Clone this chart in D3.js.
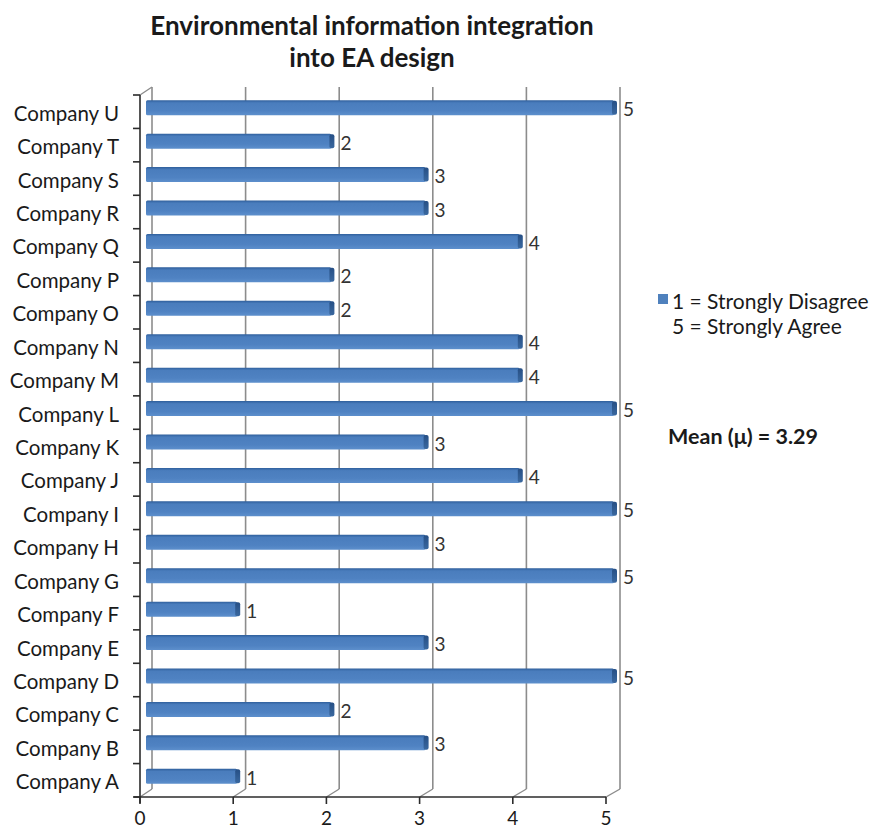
<!DOCTYPE html>
<html>
<head>
<meta charset="utf-8">
<script src="https://cdn.jsdelivr.net/npm/d3@7"></script>
<style>
  body { margin: 0; background: #fff; }
  text { font-family: Lato, "Open Sans", sans-serif; }
</style>
</head>
<body>
<svg id="chart" width="874" height="831"></svg>
<script>
// Survey scores per company (1 = Strongly Disagree ... 5 = Strongly Agree)
const companies = ["Company A", "Company B", "Company C", "Company D", "Company E", "Company F",
  "Company G", "Company H", "Company I", "Company J", "Company K", "Company L", "Company M",
  "Company N", "Company O", "Company P", "Company Q", "Company R", "Company S", "Company T", "Company U"];
const scores = [1, 3, 2, 5, 3, 1, 5, 3, 5, 4, 3, 5, 4, 4, 2, 2, 4, 3, 3, 2, 5];
const xTicks = [0, 1, 2, 3, 4, 5];
const titleLines = ["Environmental information integration", "into EA design"];
const legendLines = ["1 = Strongly Disagree", "5 = Strongly Agree"];
const meanLabel = "Mean (\u03bc) = " + d3.format(".2f")(d3.mean(scores));

const svg = d3.select("#chart");

// 3D depth offset between the front axis plane and the back wall
const depth = { dx: 12, dy: -8 };

const xFront = d3.scaleLinear().domain([0, 5]).range([140, 606]);
const xBack = d3.scaleLinear().domain([0, 5]).range([152, 620]);
const xBar = d3.scaleLinear().domain([0, 5]).range([146, 617]);
const y = d3.scaleBand().domain(companies.slice().reverse()).range([95, 797]);
const yBottom = y.range()[1];
const yTop = y.range()[0];

// gradient for the bar body
const defs = svg.append("defs");
const grad = defs.append("linearGradient").attr("id", "barGrad")
  .attr("x1", 0).attr("y1", 0).attr("x2", 0).attr("y2", 1);
grad.append("stop").attr("offset", "0%").attr("stop-color", "#2f5f9c");
grad.append("stop").attr("offset", "18%").attr("stop-color", "#4a7dbd");
grad.append("stop").attr("offset", "70%").attr("stop-color", "#4f82c2");
grad.append("stop").attr("offset", "100%").attr("stop-color", "#5d8fcc");

const capGrad = defs.append("linearGradient").attr("id", "capGrad")
  .attr("x1", 0).attr("y1", 0).attr("x2", 0).attr("y2", 1);
capGrad.append("stop").attr("offset", "0%").attr("stop-color", "#264f85");
capGrad.append("stop").attr("offset", "100%").attr("stop-color", "#3a689f");

// back wall gridlines
const grid = svg.append("g");
grid.selectAll("line.v").data(xTicks).join("line")
  .attr("x1", d => xBack(d)).attr("x2", d => xBack(d))
  .attr("y1", yTop + depth.dy).attr("y2", yBottom + depth.dy)
  .attr("stroke", "#8c8c8c").attr("stroke-width", 1.6);
// floor diagonals from the front ticks to the back wall
grid.selectAll("line.f").data(xTicks).join("line")
  .attr("x1", d => xFront(d)).attr("y1", yBottom)
  .attr("x2", d => xBack(d)).attr("y2", yBottom + depth.dy)
  .attr("stroke", "#8c8c8c").attr("stroke-width", 1.4);
// top-left corner diagonal
grid.append("line")
  .attr("x1", xFront(0)).attr("y1", yTop)
  .attr("x2", xBack(0)).attr("y2", yTop + depth.dy)
  .attr("stroke", "#8c8c8c").attr("stroke-width", 1.4);

// bars
const barH = 15;
const bars = svg.append("g").selectAll("g").data(companies.map((c, i) => ({ c, v: scores[i] }))).join("g")
  .attr("transform", d => `translate(0,${y(d.c) + y.bandwidth() / 2 + depth.dy / 2 - barH / 2})`);
bars.append("rect")
  .attr("x", xBar(0)).attr("y", 0)
  .attr("width", d => xBar(d.v) - xBar(0) - 3).attr("height", barH)
  .attr("rx", 1.5)
  .attr("fill", "url(#barGrad)");
bars.append("rect")
  .attr("x", d => xBar(d.v) - 5).attr("y", 0.5)
  .attr("width", 5).attr("height", barH - 1)
  .attr("rx", 2)
  .attr("fill", "url(#capGrad)");
bars.append("text")
  .attr("x", d => xBar(d.v) + 6).attr("y", barH / 2 + 1)
  .attr("dominant-baseline", "central")
  .attr("font-size", 19).attr("fill", "#333")
  .text(d => d.v);

// front axes
const axes = svg.append("g").attr("stroke", "#2b2b2b").attr("stroke-width", 1.6);
axes.append("line").attr("x1", xFront(0)).attr("x2", xFront(0)).attr("y1", yTop).attr("y2", yBottom + 6);
axes.append("line").attr("x1", xFront(0) - 6).attr("x2", xFront(5)).attr("y1", yBottom).attr("y2", yBottom);
const bounds = companies.slice().reverse().map(c => y(c)).concat([yBottom]);
axes.selectAll("line.ty").data(bounds).join("line")
  .attr("x1", xFront(0) - 7).attr("x2", xFront(0))
  .attr("y1", d => d).attr("y2", d => d);
axes.selectAll("line.tx").data(xTicks).join("line")
  .attr("x1", d => xFront(d)).attr("x2", d => xFront(d))
  .attr("y1", yBottom).attr("y2", yBottom + 7);

// category labels
svg.append("g").selectAll("text").data(companies).join("text")
  .attr("x", 119).attr("y", d => y(d) + y.bandwidth() / 2 + 1)
  .attr("text-anchor", "end").attr("dominant-baseline", "central")
  .attr("font-size", 20.5).attr("fill", "#1a1a1a")
  .text(d => d);

// value axis labels
svg.append("g").selectAll("text").data(xTicks).join("text")
  .attr("x", d => xFront(d)).attr("y", 817)
  .attr("text-anchor", "middle").attr("dominant-baseline", "central")
  .attr("font-size", 19).attr("fill", "#1a1a1a")
  .text(d => d);

// title
svg.append("g").selectAll("text").data(titleLines).join("text")
  .attr("x", 372).attr("y", (d, i) => 35 + i * 32)
  .attr("text-anchor", "middle")
  .attr("font-size", 26).attr("font-weight", "bold").attr("fill", "#1a1a1a")
  .text(d => d);

// legend
svg.append("rect").attr("x", 658).attr("y", 294).attr("width", 10).attr("height", 10).attr("fill", "#4f81bd");
svg.append("g").selectAll("text").data(legendLines).join("text")
  .attr("x", 672).attr("y", (d, i) => 300 + i * 25)
  .attr("dominant-baseline", "central")
  .attr("font-size", 21).attr("fill", "#1a1a1a")
  .text(d => d);

svg.append("text").attr("x", 668).attr("y", 436)
  .attr("dominant-baseline", "central")
  .attr("font-size", 21.5).attr("font-weight", "bold").attr("fill", "#1a1a1a")
  .text(meanLabel);
</script>
</body>
</html>
